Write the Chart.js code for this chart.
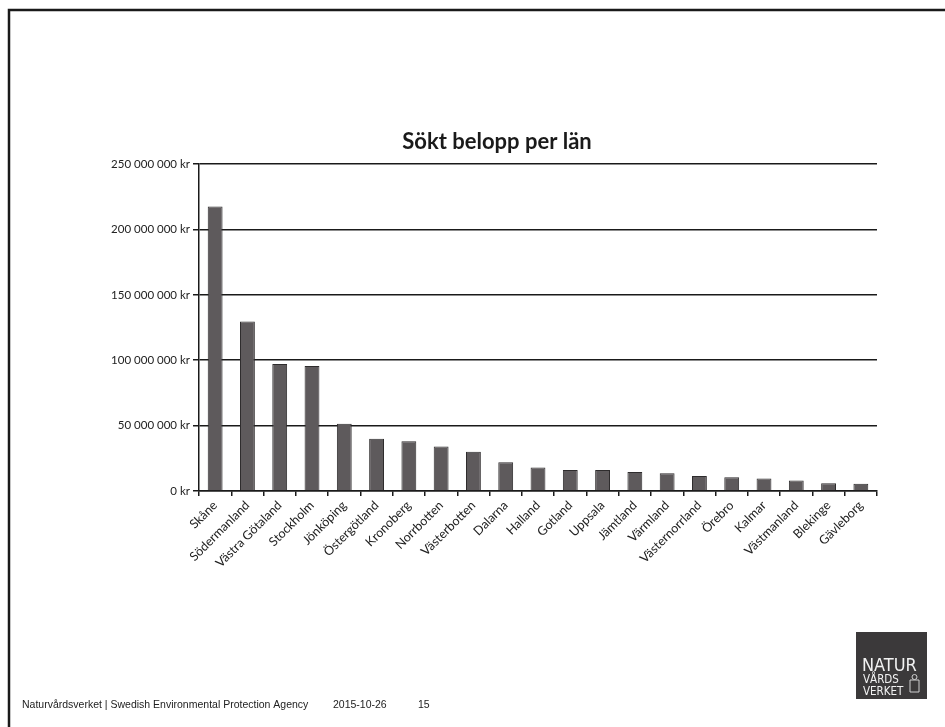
<!DOCTYPE html>
<html>
<head>
<meta charset="utf-8">
<script src="https://cdn.jsdelivr.net/npm/chart.js@4/dist/chart.umd.min.js"></script>
<style>
  html, body { margin: 0; padding: 0; background: #fff; }
  #wrap { position: relative; width: 945px; height: 727px; }
</style>
</head>
<body>
<div id="wrap"><canvas id="chart" width="945" height="727"></canvas></div>
<script>
// Sökt belopp per län (kr)
const lan = [
  "Skåne", "Södermanland", "Västra Götaland", "Stockholm", "Jönköping",
  "Östergötland", "Kronoberg", "Norrbotten", "Västerbotten", "Dalarna",
  "Halland", "Gotland", "Uppsala", "Jämtland", "Värmland",
  "Västernorrland", "Örebro", "Kalmar", "Västmanland", "Blekinge", "Gävleborg"
];
const belopp = [
  217500000, 129500000, 97000000, 95500000, 51500000,
  40000000, 38000000, 34000000, 30000000, 22000000,
  18000000, 16000000, 16000000, 14500000, 13500000,
  11500000, 10500000, 9500000, 8000000, 6000000, 5500000
];
const yTicks = [0, 50000000, 100000000, 150000000, 200000000, 250000000];

const title = "Sökt belopp per län";
const footer = "Naturvårdsverket | Swedish Environmental Protection Agency";
const footerDate = "2015-10-26";
const footerPage = "15";

function kr(v) {
  return String(v).replace(/\B(?=(\d{3})+(?!\d))/g, " ") + " kr";
}

// plot box in page pixels
const PLOT = { left: 199, right: 877, top: 164, bottom: 491 };

const slide = {
  id: "slide",
  beforeDraw(chart) {
    const c = chart.ctx;
    c.save();
    c.fillStyle = "#fff";
    c.fillRect(0, 0, chart.width, chart.height);
    // scanned page frame
    c.strokeStyle = "#1a1a1a";
    c.lineWidth = 2.5;
    c.beginPath();
    c.moveTo(9, 727);
    c.lineTo(9, 10);
    c.lineTo(945, 10);
    c.stroke();
    c.restore();
  },
  afterDraw(chart) {
    const c = chart.ctx;
    c.save();
    // title, centred where the slide had it
    c.fillStyle = "#1a1a1a";
    c.font = "bold 22px Lato, 'Open Sans', sans-serif";
    c.textAlign = "center";
    c.textBaseline = "middle";
    c.fillText(title, 497, 142);

    // footer
    c.fillStyle = "#222";
    c.font = "10.5px 'Liberation Sans', Arial, sans-serif";
    c.textAlign = "left";
    c.fillText(footer, 22, 705);
    c.fillText(footerDate, 333, 705);
    c.fillText(footerPage, 418, 705);

    // logo
    c.fillStyle = "#3b393a";
    c.fillRect(856, 632, 71, 67);
    c.fillStyle = "#f2f2f2";
    c.font = "18px 'DejaVu Sans Condensed', 'DejaVu Sans', sans-serif";
    c.fillText("NATUR", 862, 666);
    c.font = "11.5px 'DejaVu Sans Condensed', 'DejaVu Sans', sans-serif";
    c.fillText("VÅRDS", 863, 680);
    c.fillText("VERKET", 863, 692);
    // small crest
    c.strokeStyle = "#cfcfcf";
    c.lineWidth = 1;
    c.beginPath();
    c.rect(910, 680, 9, 12);
    c.stroke();
    c.beginPath();
    c.arc(914.5, 677, 2.5, 0, Math.PI * 2);
    c.stroke();
    c.restore();
  }
};

new Chart(document.getElementById("chart"), {
  type: "bar",
  data: {
    labels: lan,
    datasets: [{
      data: belopp,
      backgroundColor: "#5e5a5c",
      borderColor: "#2e2c2d",
      borderWidth: 1,
      barPercentage: 0.46,
      categoryPercentage: 1
    }]
  },
  options: {
    responsive: false,
    animation: false,
    devicePixelRatio: 1,
    layout: { padding: { top: PLOT.top, left: 0, right: 945 - PLOT.right, bottom: 0 } },
    plugins: {
      legend: { display: false },
      tooltip: { enabled: false },
      title: { display: false }
    },
    scales: {
      x: {
        afterFit(s) { s.height = 727 - PLOT.bottom; },
        border: { color: "#1a1a1a", width: 1.5 },
        grid: { display: true, drawOnChartArea: false, drawTicks: true, tickLength: 5, color: "#1a1a1a", lineWidth: 1.5, offset: true },
        ticks: {
          color: "#222",
          font: { family: "Lato, 'Open Sans', sans-serif", size: 12.5 },
          minRotation: 45,
          maxRotation: 45,
          autoSkip: false,
          padding: 2
        }
      },
      y: {
        min: 0,
        max: 250000000,
        afterFit(s) { s.width = PLOT.left; },
        afterBuildTicks(s) { s.ticks = yTicks.map(v => ({ value: v })); },
        border: { color: "#1a1a1a", width: 1.5 },
        grid: { color: "#1a1a1a", lineWidth: 1.5, drawTicks: true, tickLength: 6 },
        ticks: {
          color: "#222",
          font: { family: "Lato, 'Open Sans', sans-serif", size: 11.5 },
          padding: 3,
          callback: v => kr(v)
        }
      }
    }
  },
  plugins: [slide]
});
</script>
</body>
</html>
